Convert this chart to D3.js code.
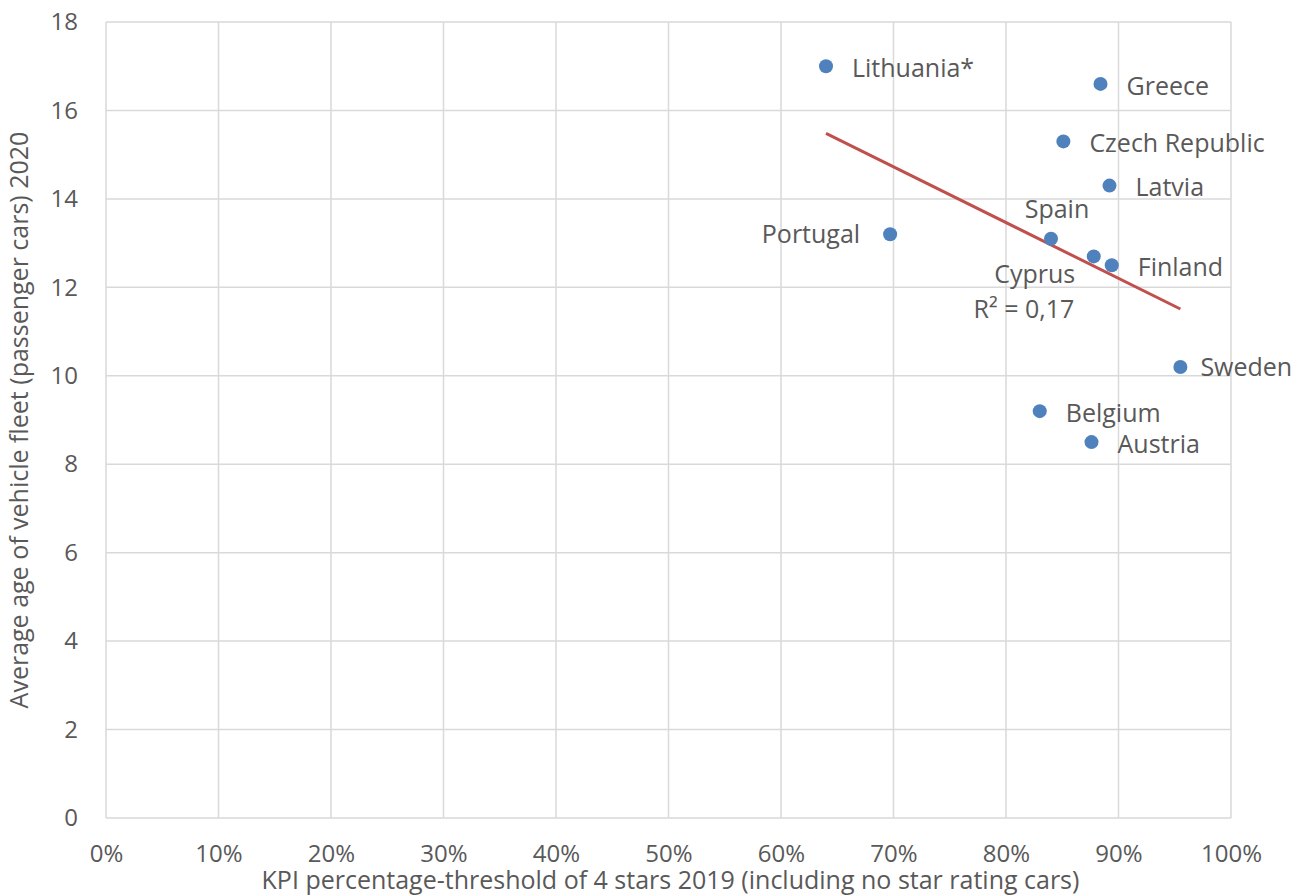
<!DOCTYPE html>
<html>
<head>
<meta charset="utf-8">
<script src="https://cdn.jsdelivr.net/npm/d3@7"></script>
<style>
  body { margin: 0; background: #fff; }
  text { font-family: "Open Sans", Lato, sans-serif; fill: #595959; }
</style>
</head>
<body>
<div id="chart"></div>
<script>
var countries = ["Lithuania*", "Greece", "Czech Republic", "Latvia", "Spain", "Portugal",
                 "Cyprus", "Finland", "Sweden", "Belgium", "Austria"];
var kpiShare = [0.640, 0.884, 0.851, 0.892, 0.840, 0.697, 0.878, 0.894, 0.955, 0.830, 0.876];
var fleetAge = [17.0, 16.6, 15.3, 14.3, 13.1, 13.2, 12.7, 12.5, 10.2, 9.2, 8.5];
var xTicks = [0, 0.1, 0.2, 0.3, 0.4, 0.5, 0.6, 0.7, 0.8, 0.9, 1.0];
var yTicks = [0, 2, 4, 6, 8, 10, 12, 14, 16, 18];

// where each label sits relative to its dot
var labelPlace = {
  "Portugal": {dx: -30, dy: 0, anchor: "end"},
  "Spain": {dx: 6, dy: -29, anchor: "middle"},
  "Cyprus": {dx: -59, dy: 18, anchor: "middle"},
  "Sweden": {dx: 20, dy: 0, anchor: "start"}
};

var margin = {top: 22, right: 66, bottom: 78, left: 106};
var width = 1297 - margin.left - margin.right;
var height = 896 - margin.top - margin.bottom;
var fs = 24;
var lfs = 25;

var svg = d3.select("#chart")
  .append("svg")
    .attr("width", 1297)
    .attr("height", 896)
  .append("g")
    .attr("transform", "translate(" + margin.left + "," + margin.top + ")");

var xScale = d3.scaleLinear().domain([0, 1]).range([0, width]);
var yScale = d3.scaleLinear().domain([0, 18]).range([height, 0]);

// grid
svg.selectAll(".vgrid")
  .data(xTicks)
  .enter().append("line")
  .attr("x1", function(d) { return xScale(d); })
  .attr("x2", function(d) { return xScale(d); })
  .attr("y1", 0).attr("y2", height)
  .attr("stroke", "#d9d9d9").attr("stroke-width", 1.5);

svg.selectAll(".hgrid")
  .data(yTicks)
  .enter().append("line")
  .attr("y1", function(d) { return yScale(d); })
  .attr("y2", function(d) { return yScale(d); })
  .attr("x1", 0).attr("x2", width)
  .attr("stroke", "#d9d9d9").attr("stroke-width", 1.5);

// axes (labels only)
var xAxis = svg.append("g")
  .attr("transform", "translate(0," + height + ")")
  .call(d3.axisBottom(xScale).tickValues(xTicks).tickFormat(d3.format(".0%")).tickSize(0).tickPadding(27));
var yAxis = svg.append("g")
  .call(d3.axisLeft(yScale).tickValues(yTicks).tickSize(0).tickPadding(28));
[xAxis, yAxis].forEach(function(a) {
  a.select(".domain").remove();
  a.selectAll("text").attr("font-size", fs).attr("fill", "#595959")
    .attr("font-family", "'Open Sans', Lato, sans-serif");
});

// regression line
var data = countries.map(function(c, i) { return {name: c, x: kpiShare[i], y: fleetAge[i]}; });
var mx = d3.mean(data, function(d) { return d.x; });
var my = d3.mean(data, function(d) { return d.y; });
var sxy = d3.sum(data, function(d) { return (d.x - mx) * (d.y - my); });
var sxx = d3.sum(data, function(d) { return (d.x - mx) * (d.x - mx); });
var syy = d3.sum(data, function(d) { return (d.y - my) * (d.y - my); });
var slope = sxy / sxx;
var icpt = my - slope * mx;
var r2 = (sxy * sxy) / (sxx * syy);
var xExt = d3.extent(data, function(d) { return d.x; });

svg.append("line")
  .attr("x1", xScale(xExt[0])).attr("y1", yScale(icpt + slope * xExt[0]))
  .attr("x2", xScale(xExt[1])).attr("y2", yScale(icpt + slope * xExt[1]))
  .attr("stroke", "#c0504d").attr("stroke-width", 3);

svg.append("text")
  .attr("x", xScale(0.816)).attr("y", yScale(11.3))
  .attr("text-anchor", "middle").attr("font-size", lfs)
  .text("R² = " + d3.format(".2f")(r2).replace(".", ","));

// points
svg.selectAll(".dot")
  .data(data)
  .enter().append("circle")
  .attr("cx", function(d) { return xScale(d.x); })
  .attr("cy", function(d) { return yScale(d.y); })
  .attr("r", 7)
  .attr("fill", "#4f81bd");

svg.selectAll(".lbl")
  .data(data)
  .enter().append("text")
  .attr("x", function(d) { var p = labelPlace[d.name]; return xScale(d.x) + (p ? p.dx : 26); })
  .attr("y", function(d) { var p = labelPlace[d.name]; return yScale(d.y) + (p ? p.dy : 2); })
  .attr("dy", "0.35em")
  .attr("text-anchor", function(d) { var p = labelPlace[d.name]; return p ? p.anchor : "start"; })
  .attr("font-size", lfs)
  .text(function(d) { return d.name; });

// axis titles
svg.append("text")
  .attr("x", width / 2 + 2).attr("y", height + 71)
  .attr("text-anchor", "middle").attr("font-size", lfs)
  .text("KPI percentage-threshold of 4 stars 2019 (including no star rating cars)");

svg.append("text")
  .attr("transform", "translate(-78," + (height / 2) + ") rotate(-90)")
  .attr("text-anchor", "middle").attr("font-size", lfs)
  .text("Average age of vehicle fleet (passenger cars) 2020");
</script>
</body>
</html>
